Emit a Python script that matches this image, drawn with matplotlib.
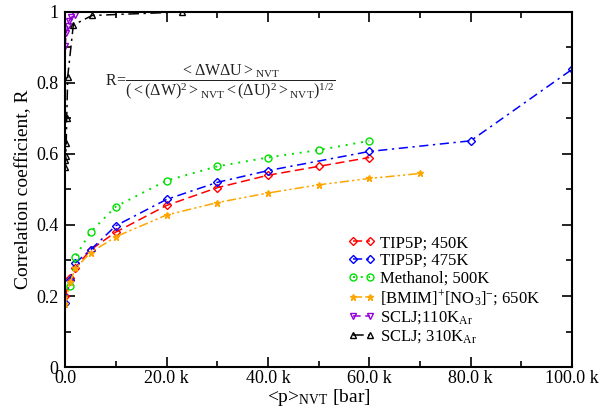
import matplotlib
matplotlib.use('Agg')
import matplotlib.pyplot as plt
from matplotlib.ticker import MultipleLocator, FuncFormatter

plt.rcParams['font.family'] = ['Liberation Serif', 'DejaVu Serif']
plt.rcParams['mathtext.fontset'] = 'custom'
plt.rcParams['mathtext.rm'] = 'Liberation Serif'
plt.rcParams['mathtext.it'] = 'Liberation Serif:italic'

# pressure in bar, correlation coefficient R
p_450 = [0, 1000, 2000, 5000, 10000, 20000, 30000, 40000, 50000, 60000]
r_450 = [0.20, 0.25, 0.28, 0.33, 0.38, 0.455, 0.505, 0.54, 0.565, 0.59]

p_475 = [0, 1000, 2000, 5000, 10000, 20000, 30000, 40000, 60000, 80000, 100000]
r_475 = [0.18, 0.245, 0.293, 0.33, 0.398, 0.472, 0.52, 0.553, 0.607, 0.637, 0.838]

p_meoh = [1000, 2000, 5000, 10000, 20000, 30000, 40000, 50000, 60000]
r_meoh = [0.228, 0.31, 0.38, 0.452, 0.525, 0.565, 0.59, 0.611, 0.637]

p_il = [0, 1000, 2000, 5000, 10000, 20000, 30000, 40000, 50000, 60000, 70000]
r_il = [0.177, 0.24, 0.278, 0.322, 0.367, 0.428, 0.463, 0.49, 0.513, 0.531, 0.545]

p_lj110 = [0, 200, 500, 800, 1200, 2000]
r_lj110 = [0.905, 0.94, 0.96, 0.975, 0.985, 0.99]

p_lj310 = [0, 50, 100, 200, 300, 500, 1600, 5300, 23000]
r_lj310 = [0.564, 0.583, 0.594, 0.63, 0.70, 0.818, 0.963, 0.99, 1.0]

fig = plt.figure(figsize=(6.15, 4.11), dpi=100)
ax = fig.add_axes([0.106, 0.107, 0.824, 0.864])

ms = 5
lw = 1.1
ax.plot(p_450, r_450, color='red', ls=(0, (6, 3)), lw=lw, marker='D', ms=4, mfc='none', label='TIP5P; 450K')
ax.plot(p_475, r_475, color='blue', ls=(0, (6, 3, 1.5, 3)), lw=lw, marker='D', ms=4, mfc='none', label='TIP5P; 475K')
ax.plot(p_meoh, r_meoh, color='#00e000', ls=(0, (1, 3)), lw=1.4, marker='o', ms=ms, mfc='none', label='Methanol; 500K')
ax.plot(p_il, r_il, color='orange', ls=(0, (6, 2, 1.5, 2, 1.5, 2)), lw=lw, marker='*', ms=ms, label=r'[BMIM]$^{+}$[NO$_{3}$]$^{-}$; 650K')
ax.plot(p_lj110, r_lj110, color='darkviolet', ls=(0, (5, 3)), lw=lw, marker='v', ms=ms, mfc='none', label=r'SCLJ;110K$_{\mathrm{Ar}}$')
ax.plot(p_lj310, r_lj310, color='black', ls=(0, (7, 3, 1.5, 3)), lw=lw, marker='^', ms=ms, mfc='none', label=r'SCLJ; 310K$_{\mathrm{Ar}}$')

ax.set_xlim(0, 100000)
ax.set_ylim(0, 1)
ax.xaxis.set_major_locator(MultipleLocator(20000))
ax.xaxis.set_minor_locator(MultipleLocator(10000))
ax.yaxis.set_major_locator(MultipleLocator(0.2))
ax.yaxis.set_minor_locator(MultipleLocator(0.1))
ax.xaxis.set_major_formatter(FuncFormatter(lambda v, pos: '0.0' if v == 0 else '%.1f k' % (v / 1000)))
ax.yaxis.set_major_formatter(FuncFormatter(lambda v, pos: '%g' % round(v, 1)))
ax.tick_params(which='both', direction='in', top=True, right=True, labelsize=13, width=1.2)
ax.tick_params(axis='x', pad=2)
ax.tick_params(axis='y', pad=5)
ax.tick_params(which='major', length=7)
ax.tick_params(which='minor', length=4)
for s in ax.spines.values():
    s.set_linewidth(1.5)

ax.set_xlabel(r'<p>$_{\mathrm{NVT}}$ [bar]', fontsize=14, labelpad=0)
ax.set_ylabel('Correlation coefficient, R', fontsize=14, labelpad=3)

ax.text(0.078, 0.805,
        r'$\mathrm{R}\!=\!\dfrac{<\Delta \mathrm{W}\Delta \mathrm{U}>_{\mathrm{NVT}}}'
        r'{(<(\Delta \mathrm{W})^{2}>_{\mathrm{NVT}}<(\Delta \mathrm{U})^{2}>_{\mathrm{NVT}})^{1/2}}$',
        transform=ax.transAxes, fontsize=11.5, ha='left', va='center', color='#222222')

ax.legend(loc='upper left', bbox_to_anchor=(0.545, 0.39), frameon=False, fontsize=12,
          numpoints=2, handlelength=1.6, handletextpad=0.3, labelspacing=0.1, borderaxespad=0)

fig.savefig('out.png', dpi=100)
